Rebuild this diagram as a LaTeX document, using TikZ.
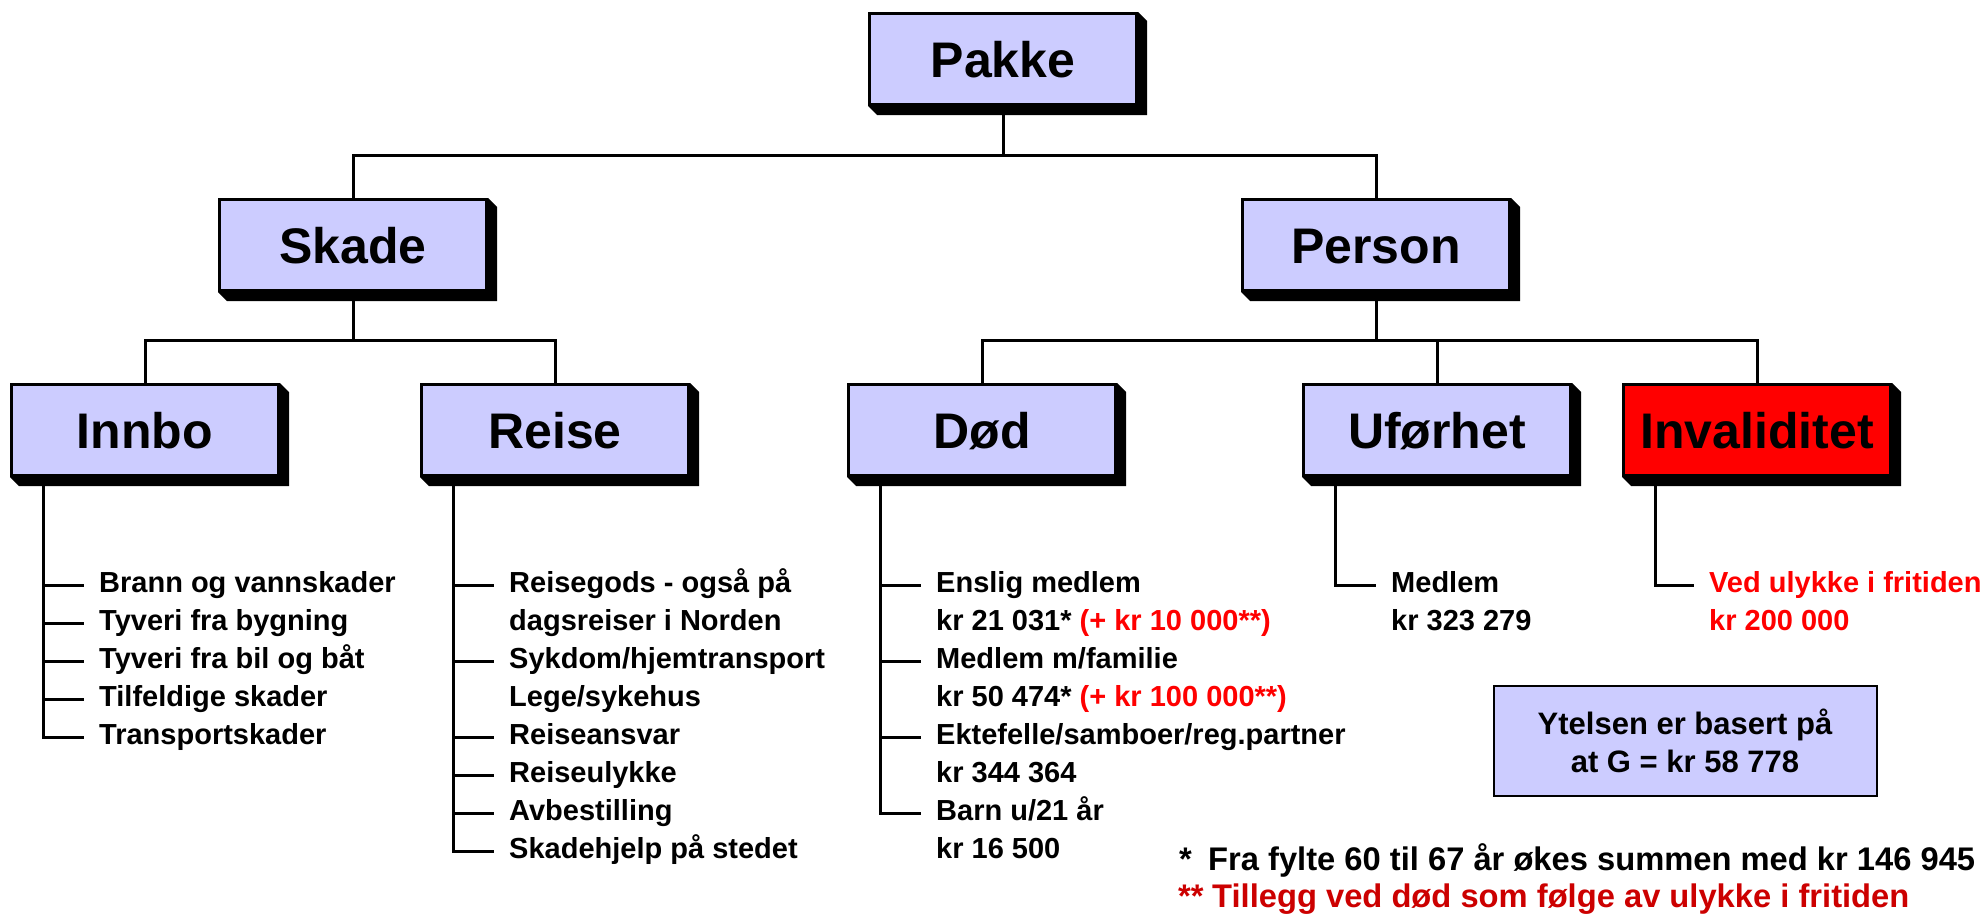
\documentclass[tikz,border=0pt]{standalone}
\usepackage{fontspec}
\setmainfont{Liberation Sans}
\usepackage{xcolor}
\usetikzlibrary{calc}

\definecolor{boxfill}{HTML}{CCCCFF}
\definecolor{hotred}{HTML}{FF0000}
\definecolor{deepred}{HTML}{CC0000}

\tikzset{
	catbox/.style={draw, line width=3pt, fill=boxfill, minimum width=267pt, minimum height=91pt,
		inner sep=0pt, text height=36pt, text depth=0pt, font=\fontsize{50}{60}\selectfont\bfseries},
	link/.style={line width=3pt},
	item/.style={anchor=mid west, inner sep=0pt, font=\fontsize{29}{34}\selectfont\bfseries},
	foot/.style={anchor=base west, inner sep=0pt, font=\fontsize{32.7}{38}\selectfont\bfseries},
}

\begin{document}
\fontsize{29}{34}\selectfont\bfseries
\begin{tikzpicture}[x=1pt,y=-1pt]
					\useasboundingbox (0,0) rectangle (1988,913);
					\def\busA{155};
					\def\busB{340};
					\def\rowA{585};
					\def\rowH{38};

					\node[catbox] (pakke) at (1003,59) {Pakke};
					\node[catbox] (skade) at (353,245) {Skade};
					\node[catbox] (person) at (1376,245) {Person};
					\node[catbox] (innbo) at (145,430) {Innbo};
					\node[catbox] (reise) at (555,430) {Reise};
					\node[catbox] (dod) at (982,430) {Død};
					\node[catbox] (ufor) at (1437,430) {Uførhet};
					\node[catbox, fill=hotred] (inval) at (1757,430) {Invaliditet};

					\foreach \n in {pakke,skade,person,innbo,reise,dod,ufor,inval}
						\fill (\n.south west) -- ([shift={(9,9)}]\n.south west) -- ([shift={(9,9)}]\n.south east)
							-- ([shift={(9,9)}]\n.north east) -- (\n.north east) -- (\n.south east) -- cycle;

					\begin{scope}[link]
						\draw (pakke.south) -- (pakke.south |- 0,\busA) -| (skade.north);
						\draw (pakke.south |- 0,\busA) -| (person.north);
						\draw (skade.south) -- (skade.south |- 0,\busB) -| (innbo.north);
						\draw (skade.south |- 0,\busB) -| (reise.north);
						\draw (person.south) -- (person.south |- 0,\busB) -| (dod.north);
						\draw (person.south |- 0,\busB) -| (ufor.north);
						\draw (person.south |- 0,\busB) -| (inval.north);
					\end{scope}

					\foreach \n in {innbo,reise,dod,ufor,inval}
						\coordinate (\n-spine) at ([xshift=33pt]\n.south west);

					% Innbo
					\foreach \txt [count=\k from 0] in {Brann og vannskader,Tyveri fra bygning,Tyveri fra bil og båt,Tilfeldige skader,Transportskader}
						\node[item] (innbo-\k) at ($(innbo-spine |- 0,\rowA)+(56,{\rowH*\k})$) {\txt};
					\foreach \k in {0,...,3}
						\draw[link] (innbo-spine |- innbo-\k.mid west) -- ([xshift=-15pt]innbo-\k.mid west);
					\draw[link] (innbo-spine) |- ([xshift=-15pt]innbo-4.mid west);

					% Reise
					\foreach \txt [count=\k from 0] in {Reisegods - også på,dagsreiser i Norden,Sykdom/hjemtransport,Lege/sykehus,Reiseansvar,Reiseulykke,Avbestilling,Skadehjelp på stedet}
						\node[item] (reise-\k) at ($(reise-spine |- 0,\rowA)+(56,{\rowH*\k})$) {\txt};
					\foreach \k in {0,2,4,5,6}
						\draw[link] (reise-spine |- reise-\k.mid west) -- ([xshift=-15pt]reise-\k.mid west);
					\draw[link] (reise-spine) |- ([xshift=-15pt]reise-7.mid west);

					% Død
					\foreach \txt [count=\k from 0] in {Enslig medlem,kr 21 031* \textcolor{hotred}{(+ kr 10 000**)},Medlem m/familie,kr 50 474* \textcolor{hotred}{(+ kr 100 000**)},Ektefelle/samboer/reg.partner,kr 344 364,Barn u/21 år,kr 16 500}
						\node[item] (dod-\k) at ($(dod-spine |- 0,\rowA)+(56,{\rowH*\k})$) {\txt};
					\foreach \k in {0,2,4}
						\draw[link] (dod-spine |- dod-\k.mid west) -- ([xshift=-15pt]dod-\k.mid west);
					\draw[link] (dod-spine) |- ([xshift=-15pt]dod-6.mid west);

					% Uførhet
					\foreach \txt [count=\k from 0] in {Medlem,kr 323 279}
						\node[item] (ufor-\k) at ($(ufor-spine |- 0,\rowA)+(56,{\rowH*\k})$) {\txt};
					\draw[link] (ufor-spine) |- ([xshift=-15pt]ufor-0.mid west);

					% Invaliditet
					\foreach \txt [count=\k from 0] in {Ved ulykke i fritiden,kr 200 000}
						\node[item, text=hotred] (inval-\k) at ($(inval-spine |- 0,\rowA)+(54,{\rowH*\k})$) {\txt};
					\draw[link] (inval-spine) |- ([xshift=-15pt]inval-0.mid west);

					\node[draw, line width=2pt, fill=boxfill, minimum width=383pt, minimum height=110pt, align=center,
						font=\fontsize{31}{38}\selectfont\bfseries] (grunnbelop) at (1685,741) {Ytelsen er basert på\\at G = kr 58 778};

					\node[foot] (star1) at (1179,870) {*};
					\node[foot] (fn1) at (1208,870) {Fra fylte 60 til 67 år økes summen med kr 146 945};
					\node[foot, text=deepred] (star2) at (1178,907) {**};
					\node[foot, text=deepred] (fn2) at (1212,907) {Tillegg ved død som følge av ulykke i fritiden};
				\end{tikzpicture}
\end{document}
